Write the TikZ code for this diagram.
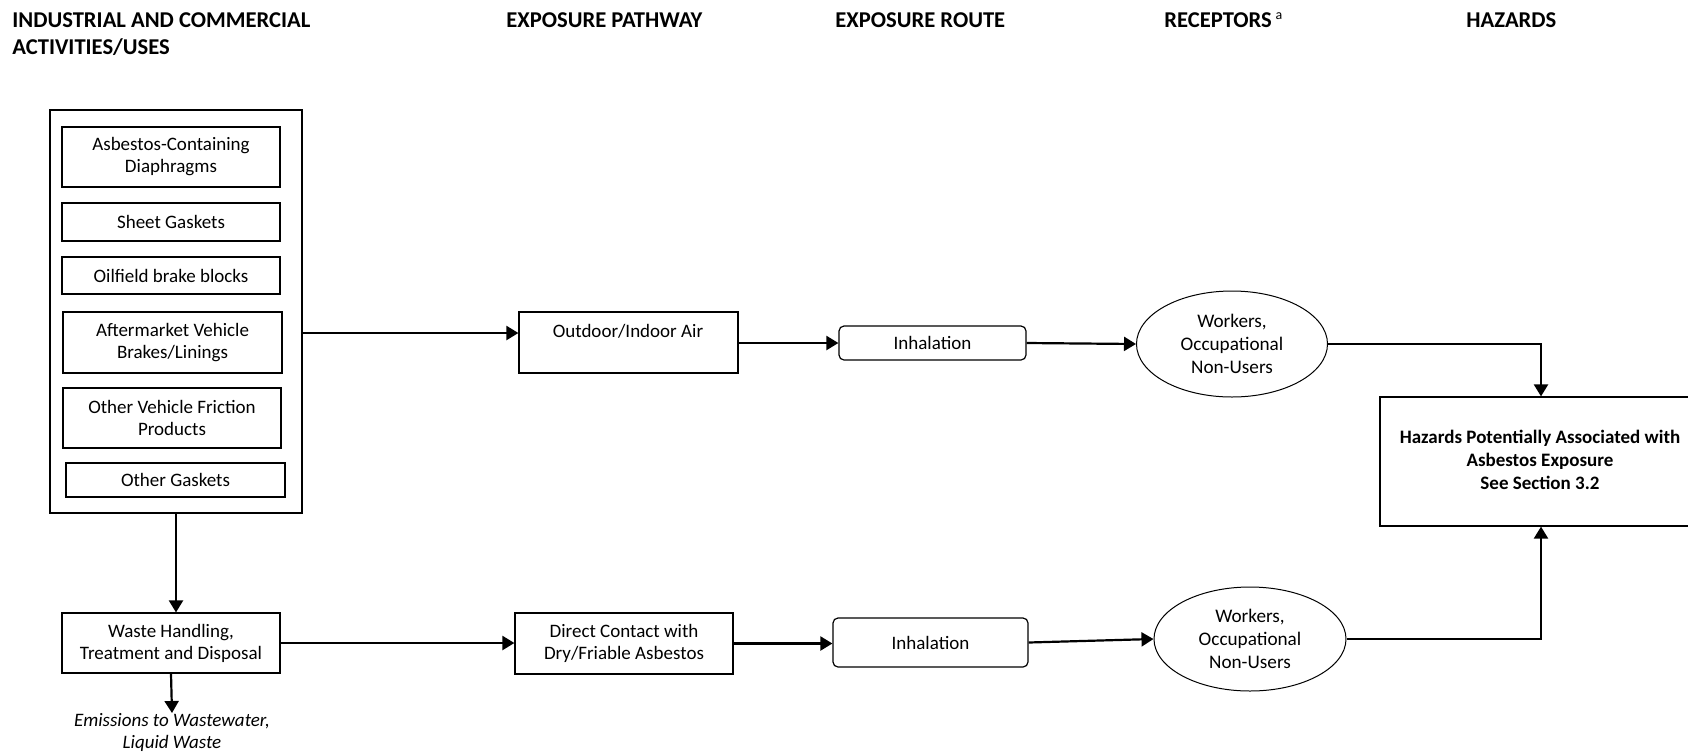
\documentclass[tikz,border=0pt]{standalone}
\usepackage{fontspec}
\setmainfont{Carlito}
\usetikzlibrary{arrows.meta,shapes.geometric}
\newcommand\boxfont{\fontsize{9.5pt}{11pt}\selectfont}
\newcommand\elfont{\fontsize{9.6pt}{11.5pt}\selectfont}
\newcommand\hdfont{\fontsize{11.3pt}{13.5pt}\selectfont\bfseries}
\tikzset{
  box/.style={draw, line width=0.6pt, align=center, font=\boxfont, inner sep=0pt},
  rbox/.style={box, rounded corners=2.5pt},
  ell/.style={draw, ellipse, line width=0.5pt, align=center, font=\elfont, inner sep=0pt},
  hdr/.style={anchor=base west, font=\hdfont, inner sep=0pt},
  lbl/.style={align=center, font=\boxfont, inner sep=0pt},
  arr/.style={line width=1.1pt, -{Triangle[length=6pt,width=7pt]}},
  ln/.style={line width=1.1pt}
}
\begin{document}
\begin{tikzpicture}[x=0.5pt,y=-0.5pt]
\clip (0,0) rectangle (1688,751);
% headers
\node[hdr] (h1) at (12,27) {INDUSTRIAL AND COMMERCIAL};
\node[hdr] (h1b) at (12,54) {ACTIVITIES/USES};
\node[hdr] (h2) at (506,27) {EXPOSURE PATHWAY};
\node[hdr] (h3) at (835,27) {EXPOSURE ROUTE};
\node[hdr] (h4) at (1164,27) {RECEPTORS\,\raisebox{0.35em}{\fontsize{7pt}{8pt}\selectfont\mdseries a}};
\node[hdr] (h5) at (1466,27) {HAZARDS};
% left column
\node[box, minimum width=126pt, minimum height=201.5pt] (outer) at (176,311.5) {};
\node[box, minimum width=109pt, minimum height=30pt] (i1) at (171,157) {Asbestos-Containing\\Diaphragms};
\node[box, minimum width=109pt, minimum height=19pt] (i2) at (171,222) {Sheet Gaskets};
\node[box, minimum width=109pt, minimum height=18.5pt] (i3) at (171,275.5) {Oilfield brake blocks};
\node[box, minimum width=109.5pt, minimum height=30.5pt] (i4) at (172.5,342.5) {Aftermarket Vehicle\\Brakes/Linings};
\node[box, minimum width=109pt, minimum height=30pt] (i5) at (172,418) {Other Vehicle Friction\\Products};
\node[box, minimum width=109.5pt, minimum height=17pt] (i6) at (175.5,480) {Other Gaskets};
\node[box, minimum width=109pt, minimum height=30pt] (waste) at (171,643) {Waste Handling,\\Treatment and Disposal};
\node[lbl, anchor=north, font=\boxfont\itshape] (emis) at (172,713) {Emissions to Wastewater,\\Liquid Waste};
% upper path
\node[box, minimum width=109.5pt, minimum height=30.5pt] (outdoor) at (628.5,342.5) {};
\node[lbl] (outdoortxt) at (628,331) {Outdoor/Indoor Air};
\node[rbox, minimum width=93.5pt, minimum height=17pt] (inh1) at (932.5,343) {Inhalation};
\node[ell, minimum width=95.5pt, minimum height=53pt] (ell1) at (1232,344) {Workers,\\Occupational\\Non-Users};
% hazards
\node[box, minimum width=161pt, minimum height=64.5pt] (haz) at (1541,461.5) {};
\node[lbl, font=\fontsize{9.5pt}{11.5pt}\selectfont\bfseries] (haztxt) at (1540,460) {Hazards Potentially Associated with\\Asbestos Exposure\\See Section 3.2};
% lower path
\node[box, minimum width=109pt, minimum height=30.5pt] (direct) at (624,643.5) {Direct Contact with\\Dry/Friable Asbestos};
\node[rbox, minimum width=97.5pt, minimum height=24.5pt] (inh2) at (930.5,642.5) {Inhalation};
\node[ell, minimum width=96pt, minimum height=52pt] (ell2) at (1250,639) {Workers,\\Occupational\\Non-Users};
% connectors
\coordinate (r1) at (302,333);
\draw[arr] (r1) -- (r1 -| outdoor.west);
\draw[arr] (outdoor.east |- inh1.west) -- (inh1.west);
\draw[arr] (inh1.east) -- (ell1.west);
\draw[arr] (ell1.east) -| (haz.north);
\draw[arr] (outer.south) -- (outer.south |- waste.north);
\draw[arr] (waste.south) -- (emis.north);
\draw[arr] (waste.east) -- (waste.east -| direct.west);
\draw[arr] (direct.east) -- (direct.east -| inh2.west);
\draw[arr] (inh2.east) -- (ell2.west);
\draw[arr] (ell2.east) -| (haz.south);
\end{tikzpicture}
\end{document}
